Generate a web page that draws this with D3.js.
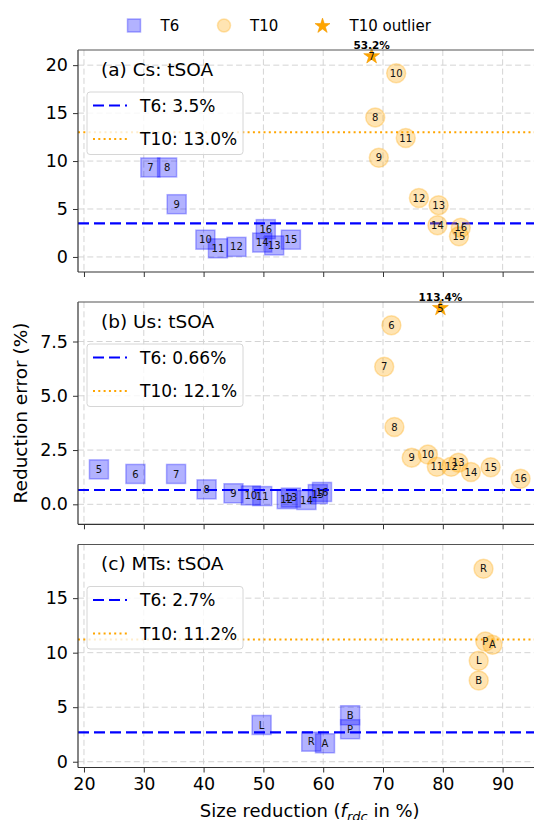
<!DOCTYPE html>
<html>
<head>
<meta charset="utf-8">
<script src="https://cdn.jsdelivr.net/npm/d3@7"></script>
<style>
  body { margin: 0; background: #fff; }
  svg { display: block; }
  text { font-family: "DejaVu Sans", sans-serif; fill: #000; }
</style>
</head>
<body>
<svg id="chart" width="534" height="820"></svg>
<script>
// ---- shared x axis ----
const xTicks = [20, 30, 40, 50, 60, 70, 80, 90];
const xDomain = [19, 96.5];

// ---- (a) Cs: tSOA ----
const csT6 = [
  { id: "7", x: 31.1, y: 9.33 }, { id: "8", x: 33.9, y: 9.33 },
  { id: "9", x: 35.5, y: 5.5 },  { id: "10", x: 40.3, y: 1.8 },
  { id: "11", x: 42.4, y: 0.9 }, { id: "12", x: 45.5, y: 1.05 },
  { id: "16", x: 50.4, y: 2.9 }, { id: "14", x: 49.8, y: 1.5 },
  { id: "13", x: 51.8, y: 1.2 }, { id: "15", x: 54.6, y: 1.8 }
];
const csT10 = [
  { id: "8", x: 68.7, y: 14.55 }, { id: "9", x: 69.3, y: 10.35 },
  { id: "10", x: 72.2, y: 19.15 }, { id: "11", x: 73.8, y: 12.4 },
  { id: "12", x: 76.0, y: 6.15 }, { id: "13", x: 79.3, y: 5.4 },
  { id: "14", x: 79.1, y: 3.3 },  { id: "16", x: 83.0, y: 3.05 },
  { id: "15", x: 82.7, y: 2.15 }
];
const csOutlier = [{ id: "7", x: 68.1, value: 53.2 }];
const csMeans = ["3.5", "13.0"];   // T6, T10 average error (%)

// ---- (b) Us: tSOA ----
const usT6 = [
  { id: "5", x: 22.5, y: 1.61 }, { id: "6", x: 28.6, y: 1.40 },
  { id: "7", x: 35.4, y: 1.40 }, { id: "8", x: 40.5, y: 0.69 },
  { id: "9", x: 45.0, y: 0.51 }, { id: "10", x: 47.9, y: 0.41 },
  { id: "11", x: 49.8, y: 0.38 }, { id: "12", x: 53.9, y: 0.24 },
  { id: "13", x: 54.6, y: 0.31 }, { id: "14", x: 57.2, y: 0.20 },
  { id: "15", x: 59.1, y: 0.47 }, { id: "16", x: 59.8, y: 0.57 }
];
const usT10 = [
  { id: "6", x: 71.4, y: 8.25 }, { id: "7", x: 70.2, y: 6.34 },
  { id: "8", x: 71.9, y: 3.56 }, { id: "9", x: 74.8, y: 2.15 },
  { id: "10", x: 77.5, y: 2.29 }, { id: "11", x: 79.0, y: 1.73 },
  { id: "12", x: 81.4, y: 1.73 }, { id: "13", x: 82.6, y: 1.92 },
  { id: "14", x: 84.7, y: 1.49 }, { id: "15", x: 88.0, y: 1.71 },
  { id: "16", x: 93.0, y: 1.18 }
];
const usOutlier = [{ id: "5", x: 79.6, value: 113.4 }];
const usMeans = ["0.66", "12.1"];

// ---- (c) MTs: tSOA ----
const mtT6 = [
  { id: "L", x: 49.7, y: 3.37 }, { id: "R", x: 58.0, y: 1.84 },
  { id: "A", x: 60.3, y: 1.69 }, { id: "P", x: 64.5, y: 2.98 },
  { id: "B", x: 64.5, y: 4.26 }
];
const mtT10 = [
  { id: "R", x: 86.8, y: 17.7 }, { id: "P", x: 87.1, y: 11.03 },
  { id: "A", x: 88.3, y: 10.73 }, { id: "L", x: 86.0, y: 9.26 },
  { id: "B", x: 86.0, y: 7.45 }
];
const mtOutlier = [];
const mtMeans = ["2.7", "11.2"];

// ---- styling ----
const BLUE = "#0000ff", ORANGE = "#ffa500";
const T6_FILL = "rgba(0,0,255,0.3)", T10_FILL = "rgba(255,165,0,0.3)";
const FONT_TICK = 17.5, FONT_TITLE = 18.5, FONT_LEG = 17;

const panels = [
  { key: "a", title: "(a) Cs: tSOA", top: 50, bottom: 272, yDomain: [-1.57, 21.58],
    yTicks: [0, 5, 10, 15, 20], fmt: d3.format("d"),
    t6: csT6, t10: csT10, outliers: csOutlier, means: csMeans },
  { key: "b", title: "(b) Us: tSOA", top: 302, bottom: 524.3, yDomain: [-0.92, 9.32],
    yTicks: [0, 2.5, 5, 7.5], fmt: d3.format(".1f"),
    t6: usT6, t10: usT10, outliers: usOutlier, means: usMeans },
  { key: "c", title: "(c) MTs: tSOA", top: 544.5, bottom: 767.5, yDomain: [-0.53, 19.92],
    yTicks: [0, 5, 10, 15], fmt: d3.format("d"),
    t6: mtT6, t10: mtT10, outliers: mtOutlier, means: mtMeans }
];

const svg = d3.select("#chart");
const plotLeft = 78, plotRight = 541.5;
const x = d3.scaleLinear().domain(xDomain).range([plotLeft, plotRight]);
const defs = svg.append("defs");
const star = d3.symbol().type(d3.symbolStar);

panels.forEach((p, i) => {
  const y = d3.scaleLinear().domain(p.yDomain).range([p.bottom, p.top]);
  const clipId = "clip-" + p.key;
  defs.append("clipPath").attr("id", clipId)
    .append("rect").attr("x", plotLeft).attr("y", p.top)
    .attr("width", plotRight - plotLeft).attr("height", p.bottom - p.top);

  const g = svg.append("g");
  const plot = g.append("g").attr("clip-path", `url(#${clipId})`);

  // grid
  plot.selectAll(".gx").data(xTicks).join("line")
    .attr("x1", d => x(d)).attr("x2", d => x(d))
    .attr("y1", p.top).attr("y2", p.bottom)
    .attr("stroke", "#d4d4d4").attr("stroke-width", 1).attr("stroke-dasharray", "6,3.3");
  plot.selectAll(".gy").data(p.yTicks).join("line")
    .attr("x1", plotLeft).attr("x2", plotRight)
    .attr("y1", d => y(d)).attr("y2", d => y(d))
    .attr("stroke", "#d4d4d4").attr("stroke-width", 1).attr("stroke-dasharray", "6,3.3");

  // average error lines
  plot.append("line").attr("x1", plotLeft).attr("x2", plotRight)
    .attr("y1", y(+p.means[0])).attr("y2", y(+p.means[0]))
    .attr("stroke", BLUE).attr("stroke-width", 2.2).attr("stroke-dasharray", "11,5");
  plot.append("line").attr("x1", plotLeft).attr("x2", plotRight)
    .attr("y1", y(+p.means[1])).attr("y2", y(+p.means[1]))
    .attr("stroke", ORANGE).attr("stroke-width", 2).attr("stroke-dasharray", "2,3.3");

  // T6 squares
  const s = 19;
  plot.selectAll(".t6").data(p.t6).join("rect")
    .attr("x", d => x(d.x) - s / 2).attr("y", d => y(d.y) - s / 2)
    .attr("width", s).attr("height", s)
    .attr("fill", T6_FILL).attr("stroke", T6_FILL).attr("stroke-width", 1.5);
  // T10 circles
  plot.selectAll(".t10").data(p.t10).join("circle")
    .attr("cx", d => x(d.x)).attr("cy", d => y(d.y)).attr("r", 9.5)
    .attr("fill", T10_FILL).attr("stroke", T10_FILL).attr("stroke-width", 1.5);

  // point labels
  const labels = p.t6.concat(p.t10);
  g.selectAll(".lbl").data(labels).join("text")
    .attr("x", d => x(d.x)).attr("y", d => y(d.y) + 3.6)
    .attr("text-anchor", "middle").attr("font-size", 10).style("fill", "#111")
    .text(d => d.id);

  // outliers capped near the top of the axis
  const cap = p.yDomain[1] * 0.97;
  p.outliers.forEach(o => {
    const oy = y(Math.min(o.value, cap));
    g.append("path").attr("d", star.size(78)())
      .attr("transform", `translate(${x(o.x)},${oy})`)
      .attr("fill", ORANGE).attr("stroke", "#f29b00").attr("stroke-width", 0.6);
    g.append("text").attr("x", x(o.x)).attr("y", oy + 3.6)
      .attr("text-anchor", "middle").attr("font-size", 10).style("fill", "#111")
      .text(o.id);
    g.append("text").attr("x", x(o.x)).attr("y", oy - 7)
      .attr("text-anchor", "middle").attr("font-size", 10.5).attr("font-weight", "bold")
      .text(d3.format(".1f")(o.value) + "%");
  });

  // spines
  g.append("line").attr("x1", plotLeft).attr("x2", plotLeft).attr("y1", p.top).attr("y2", p.bottom)
    .attr("stroke", "#333").attr("stroke-width", 1.2);
  g.append("line").attr("x1", plotLeft).attr("x2", plotRight).attr("y1", p.top).attr("y2", p.top)
    .attr("stroke", "#555").attr("stroke-width", 1.2);
  g.append("line").attr("x1", plotLeft).attr("x2", plotRight).attr("y1", p.bottom).attr("y2", p.bottom)
    .attr("stroke", "#333").attr("stroke-width", 1.2);

  // y axis
  const ya = g.append("g").attr("transform", `translate(${plotLeft},0)`)
    .call(d3.axisLeft(y).tickValues(p.yTicks).tickFormat(p.fmt).tickSize(5).tickPadding(5));
  ya.select(".domain").remove();
  ya.selectAll("line").attr("stroke", "#333");
  ya.selectAll("text").attr("font-size", FONT_TICK).attr("font-family", "DejaVu Sans").style("fill", "#000");

  // x axis (labels only on the last panel)
  const xa = g.append("g").attr("transform", `translate(0,${p.bottom})`)
    .call(d3.axisBottom(x).tickValues(xTicks).tickFormat(i === panels.length - 1 ? d3.format("d") : () => "")
      .tickSize(5).tickPadding(5));
  xa.select(".domain").remove();
  xa.selectAll("line").attr("stroke", "#333");
  xa.selectAll("text").attr("font-size", FONT_TICK).attr("font-family", "DejaVu Sans").style("fill", "#000");

  // panel title
  g.append("text").attr("x", 101).attr("y", p.top + 25.5)
    .attr("font-size", FONT_TITLE).text(p.title);

  // legend for the average lines
  const lt = p.top + 42;
  g.append("rect").attr("x", 87).attr("y", lt).attr("width", 156).attr("height", 62.5)
    .attr("rx", 3).attr("fill", "rgba(255,255,255,0.8)").attr("stroke", "#d6d6d6");
  const entries = [
    { text: `T6: ${p.means[0]}%`, color: BLUE, dash: "11,5", w: 2.2, dy: 13.5 },
    { text: `T10: ${p.means[1]}%`, color: ORANGE, dash: "2,3.3", w: 2, dy: 47 }
  ];
  entries.forEach(e => {
    g.append("line").attr("x1", 93).attr("x2", 127)
      .attr("y1", lt + e.dy).attr("y2", lt + e.dy)
      .attr("stroke", e.color).attr("stroke-width", e.w).attr("stroke-dasharray", e.dash);
    g.append("text").attr("x", 140).attr("y", lt + e.dy + 6.2)
      .attr("font-size", FONT_LEG).text(e.text);
  });
});

// axis titles
const xl = svg.append("text").attr("x", (plotLeft + plotRight) / 2).attr("y", 817)
  .attr("text-anchor", "middle").attr("font-size", 18);
xl.append("tspan").text("Size reduction (");
xl.append("tspan").attr("font-style", "italic").text("f");
xl.append("tspan").attr("font-style", "italic").attr("font-size", 13).attr("dy", 4).text("rdc");
xl.append("tspan").attr("dy", -4).text(" in %)");

svg.append("text").attr("transform", "translate(27,413) rotate(-90)")
  .attr("text-anchor", "middle").attr("font-size", 18.5).text("Reduction error (%)");

// series legend above the panels
const seriesLegend = svg.append("g");
seriesLegend.append("rect").attr("x", 127.5).attr("y", 19).attr("width", 13).attr("height", 13)
  .attr("fill", T6_FILL).attr("stroke", T6_FILL).attr("stroke-width", 1.5);
seriesLegend.append("text").attr("x", 160.5).attr("y", 31).attr("font-size", 15).text("T6");
seriesLegend.append("circle").attr("cx", 224).attr("cy", 25.5).attr("r", 6.5)
  .attr("fill", T10_FILL).attr("stroke", T10_FILL).attr("stroke-width", 1.5);
seriesLegend.append("text").attr("x", 250).attr("y", 31).attr("font-size", 15).text("T10");
seriesLegend.append("path").attr("d", star.size(70)()).attr("transform", "translate(322.5,26)")
  .attr("fill", ORANGE).attr("stroke", "#f29b00").attr("stroke-width", 0.6);
seriesLegend.append("text").attr("x", 349.5).attr("y", 31).attr("font-size", 15).text("T10 outlier");
</script>
</body>
</html>
